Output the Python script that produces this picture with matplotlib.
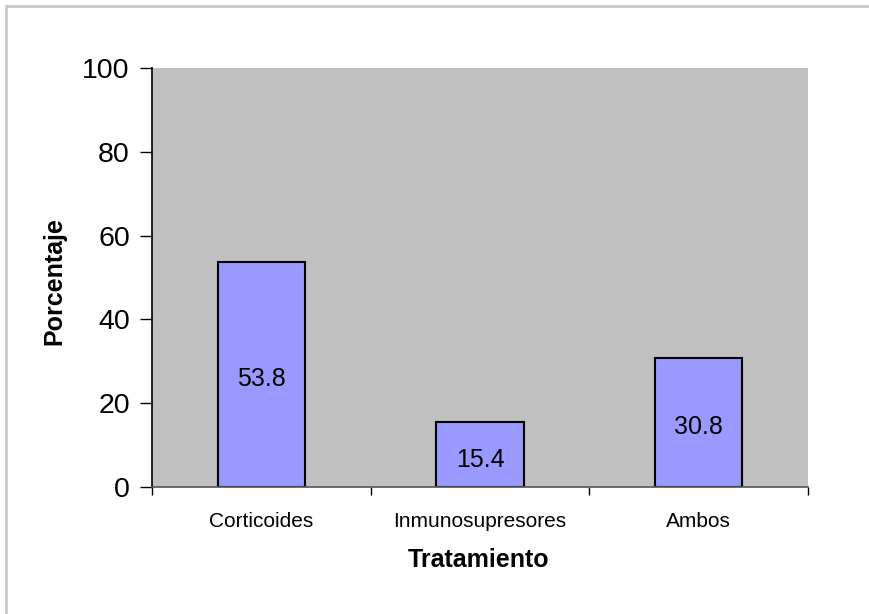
import numpy as np
import matplotlib.pyplot as plt
from matplotlib.patches import Rectangle

plt.rcParams['font.family'] = ['Liberation Sans', 'DejaVu Sans']

tratamientos = ['Corticoides', 'Inmunosupresores', 'Ambos']
porcentajes = [53.8, 15.4, 30.8]
yticks = [0, 20, 40, 60, 80, 100]

W, H = 869, 614
fig = plt.figure(figsize=(W / 100, H / 100), dpi=100)

# grey frame around the whole chart (runs off the right and bottom edge)
fig.patches.append(Rectangle((6 / W, -0.1), 1.2, 1 - 6 / H + 0.1,
                             transform=fig.transFigure, fill=False,
                             edgecolor='#c8c8c8', linewidth=2))

ax = fig.add_axes([152 / W, (H - 487) / H, 656 / W, 419 / H])
ax.set_facecolor('#c0c0c0')

x = np.arange(len(tratamientos))
bars = ax.bar(x, porcentajes, width=0.4, color='#9999ff',
              edgecolor='black', linewidth=1.5, zorder=2)

for xi, v in zip(x, porcentajes):
    ax.annotate(f'{v:.1f}', (xi, v / 2), xytext=(0, -5),
                textcoords='offset pixels', ha='center', va='center',
                fontsize=18)

ax.set_xlim(-0.5, len(tratamientos) - 0.5)
ax.set_ylim(0, 100)
ax.set_yticks(yticks)
ax.set_yticklabels([str(t) for t in yticks], fontsize=20.5)
ax.tick_params(axis='y', direction='out', length=9, width=1, pad=7)

# ticks at category boundaries, labels at centres
ax.set_xticks(np.arange(-0.5, len(tratamientos)), labels=[])
ax.set_xticks(x, labels=tratamientos, minor=True)
ax.tick_params(axis='x', which='major', direction='out', length=6,
               width=1, color='black')
ax.tick_params(axis='x', which='minor', length=0, pad=18, labelsize=15)

for side in ['top', 'right']:
    ax.spines[side].set_visible(False)
ax.spines['left'].set_color('black')
ax.spines['left'].set_linewidth(1.2)
ax.spines['bottom'].set_color('#555555')
ax.spines['bottom'].set_linewidth(1.2)

fig.text(54 / W, 1 - 281 / H, 'Porcentaje', rotation=90, ha='center',
         va='center', fontsize=18, fontweight='bold')
fig.text(479 / W, 1 - 560 / H, 'Tratamiento', ha='center', va='center',
         fontsize=18, fontweight='bold')

fig.savefig('out.png', dpi=100)
